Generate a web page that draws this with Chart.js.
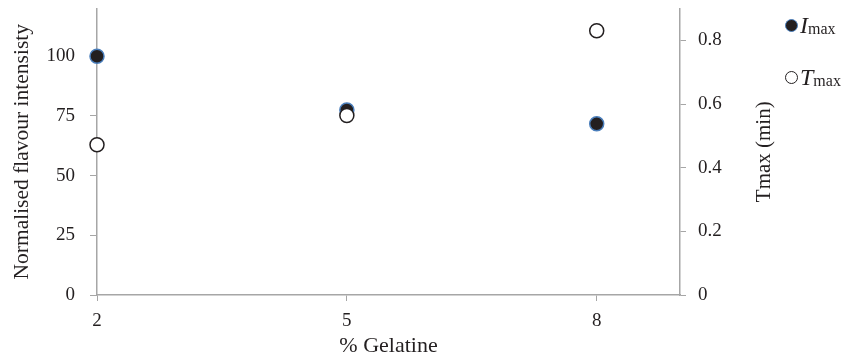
<!DOCTYPE html>
<html>
<head>
<meta charset="utf-8">
<script src="https://cdn.jsdelivr.net/npm/chart.js@4"></script>
<style>
  html, body { margin: 0; padding: 0; background: #fff; }
  #caja { position: relative; width: 851px; height: 360px; }
  #leyenda { position: absolute; left: 785px; top: 12px; font-family: "Liberation Serif", serif; font-size: 24px; color: #231f20; }
  .item { display: flex; align-items: center; height: 26px; margin-bottom: 26px; white-space: nowrap; }
  .punto { width: 13px; height: 13px; border-radius: 50%; margin-right: 2px; box-sizing: border-box; flex: none; }
  sub { font-size: 16px; position: relative; top: 4px; vertical-align: baseline; }
</style>
</head>
<body>
<div id="caja">
  <canvas id="grafica" width="851" height="360"></canvas>
  <div id="leyenda">
    <div class="item"><span class="punto" style="background:#231f20;border:1.5px solid #4a7ebb"></span><i>I</i><sub>max</sub></div>
    <div class="item"><span class="punto" style="background:#fff;border:1.5px solid #231f20"></span><i>T</i><sub>max</sub></div>
  </div>
</div>
<script>
// % gelatina en el eje X
const gelatina = [2, 5, 8];
// intensidad normalizada (eje izquierdo)
const imax = [100, 77.5, 71.7];
// tiempo al máximo, en minutos (eje derecho)
const tmax = [0.472, 0.564, 0.83];

const ticksX = [2, 5, 8];
const ticksI = [0, 25, 50, 75, 100];
const ticksT = [0, 0.2, 0.4, 0.6, 0.8];

const fuenteTicks = { family: 'Liberation Serif', size: 19 };
const fuenteTitulo = { family: 'Liberation Serif', size: 22 };
const gris = '#a6a6a6';
const texto = '#231f20';

// anchos fijos para que el área quede donde en el original
const fijarAncho = w => s => { s.width = w; s.paddingTop = 0; s.paddingBottom = 0; };

// el título del eje derecho se lee de abajo hacia arriba, Chart.js lo gira al revés
const tituloDerecho = {
  id: 'tituloDerecho',
  afterDraw(chart) {
    const s = chart.scales.y2;
    const ctx = chart.ctx;
    ctx.save();
    ctx.translate(s.right - 17, (chart.chartArea.top + chart.chartArea.bottom) / 2);
    ctx.rotate(-Math.PI / 2);
    ctx.font = `21px "${fuenteTitulo.family}"`;
    ctx.fillStyle = texto;
    ctx.textAlign = 'center';
    ctx.textBaseline = 'middle';
    ctx.fillText('Tmax (min)', 0, 0);
    ctx.restore();
  },
};

new Chart(document.getElementById('grafica'), {
  type: 'scatter',
  data: {
    datasets: [
      {
        label: 'Tmax', yAxisID: 'y2', order: 0, clip: false,
        data: gelatina.map((g, i) => ({ x: g, y: tmax[i] })),
        backgroundColor: '#ffffff', borderColor: texto, borderWidth: 1.5, pointRadius: 7,
      },
      {
        label: 'Imax', yAxisID: 'y', order: 1, clip: false,
        data: gelatina.map((g, i) => ({ x: g, y: imax[i] })),
        backgroundColor: texto, borderColor: '#4a7ebb', borderWidth: 1.5, pointRadius: 7,
      },
    ],
  },
  options: {
    responsive: false,
    animation: false,
    layout: { padding: { top: 8, right: 70, left: 5, bottom: 0 } },
    plugins: { legend: { display: false }, tooltip: { enabled: false } },
    scales: {
      x: {
        type: 'linear', min: 2, max: 9,
        afterBuildTicks: a => { a.ticks = ticksX.map(v => ({ value: v })); },
        afterFit: s => { s.height = 65; },
        grid: { drawOnChartArea: false, tickLength: 6, color: gris },
        border: { color: gris, width: 1.5 },
        ticks: { font: fuenteTicks, color: texto, padding: 9 },
        title: { display: true, text: '% Gelatine', font: fuenteTitulo, color: texto, padding: { top: 0, bottom: 1 } },
      },
      y: {
        position: 'left', min: 0, max: 120,
        afterBuildTicks: a => { a.ticks = ticksI.map(v => ({ value: v })); },
        afterFit: fijarAncho(92),
        grid: { drawOnChartArea: false, tickLength: 7, color: gris },
        border: { color: gris, width: 1.5 },
        ticks: { font: fuenteTicks, color: texto, padding: 15 },
        title: { display: true, text: 'Normalised flavour intensisty', font: { family: 'Liberation Serif', size: 21.5 }, color: texto },
      },
      y2: {
        position: 'right', min: 0, max: 0.9,
        afterBuildTicks: a => { a.ticks = ticksT.map(v => ({ value: v })); },
        afterFit: fijarAncho(101),
        grid: { drawOnChartArea: false, tickLength: 6, color: gris },
        border: { color: gris, width: 1.5 },
        ticks: { font: fuenteTicks, color: texto, padding: 12 },
        title: { display: false, text: 'Tmax (min)' },
      },
    },
  },
  plugins: [tituloDerecho],
});
</script>
</body>
</html>
